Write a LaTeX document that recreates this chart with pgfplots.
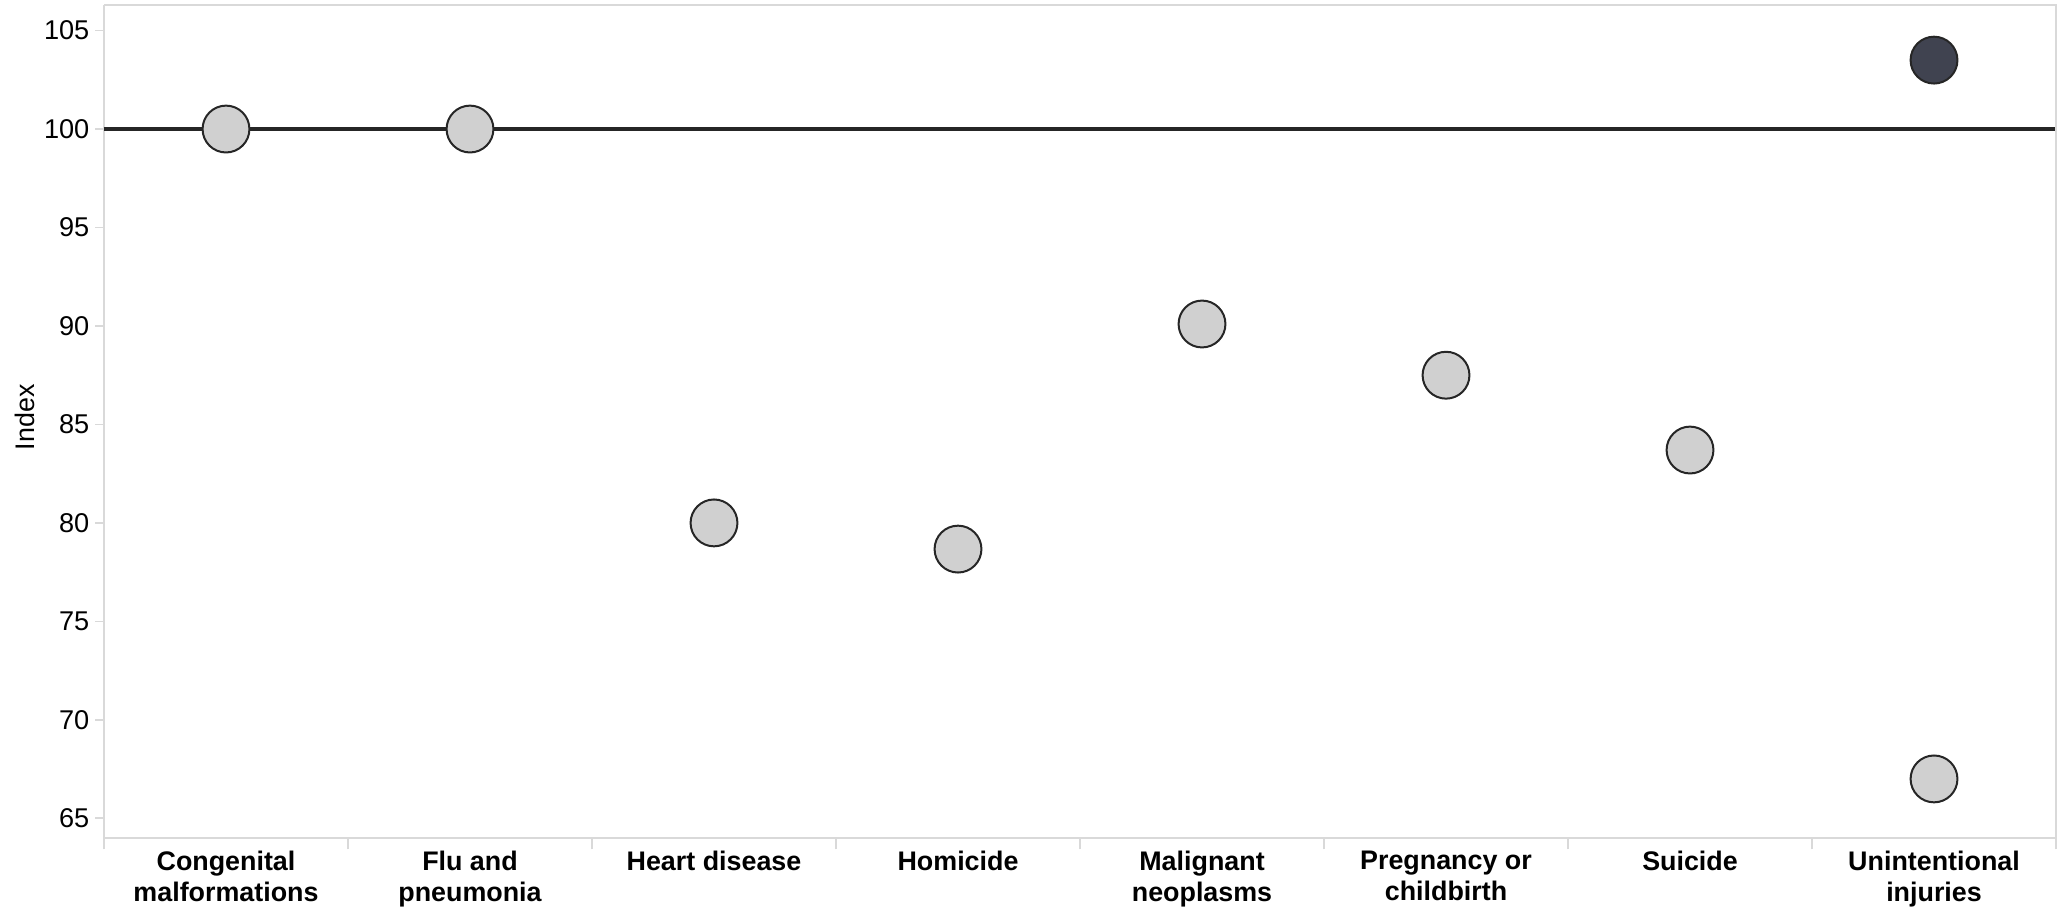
\documentclass[border=0pt]{standalone}
\usepackage{fontspec}
\setmainfont{Liberation Sans}
\usepackage{pgfplots}
\pgfplotsset{compat=1.18}
\definecolor{lightdot}{RGB}{208,208,208}
\definecolor{darkdot}{RGB}{64,67,80}
\definecolor{axgray}{RGB}{217,217,217}
\begin{document}
\begin{tikzpicture}[x=1pt,y=1pt]
\begin{axis}[
  name=ax,
  scale only axis,
  width=683.2pt, height=291.55pt,
  xmin=-0.5, xmax=7.5,
  ymin=64, ymax=106.3,
  axis line style={axgray, line width=0.6pt},
  ytick={65,70,...,105},
  xtick={0,...,7},
  xticklabels={{Congenital\\malformations},{Flu and\\pneumonia},{Heart disease},{Homicide},{Malignant\\neoplasms},{Pregnancy or\\childbirth},{Suicide},{Unintentional\\injuries}},
  x tick label style={font=\fontsize{9.4}{10.9}\selectfont\bfseries, align=center, anchor=north, yshift=2pt},
  y tick label style={font=\fontsize{9.5}{11}\selectfont, xshift=1.4pt},
  /pgf/number format/assume math mode=true,
  minor xtick={-0.5,0.5,...,7.5},
  tick align=outside,
  major x tick style={draw=none},
  minor tick style={axgray, line width=0.6pt},
  minor tick length=4pt,
  major tick length=3pt,
  ytick style={axgray, line width=0.6pt},
  axis y line*=left, axis x line*=bottom,
  ylabel={Index},
  ylabel style={font=\fontsize{9.4}{11}\selectfont, at={(axis description cs:-0.0404,0.505)}, anchor=center},
  clip=false,
]
\addplot[only marks, mark=*, mark size=8.2pt, mark options={fill=lightdot, draw=black!85, line width=0.7pt}]
coordinates {(0,100) (1,100) (2,80) (3,78.67) (4,90.1) (5,87.5) (6,83.7) (7,67.0)};
\addplot[only marks, mark=*, mark size=8.2pt, mark options={fill=darkdot, draw=black!85, line width=0.7pt}]
coordinates {(7,103.5)};
\addplot[black!85, line width=1.4pt] coordinates {(-0.5,100) (7.5,100)};
\draw[axgray, line width=0.6pt] (rel axis cs:0,1) -- (rel axis cs:1,1) -- (rel axis cs:1,0);
\end{axis}
\pgfresetboundingbox
\path[use as bounding box] ([xshift=-36.4pt,yshift=-23.8pt]ax.south west) rectangle ([xshift=2.1pt,yshift=1.75pt]ax.north east);
\end{tikzpicture}
\end{document}
